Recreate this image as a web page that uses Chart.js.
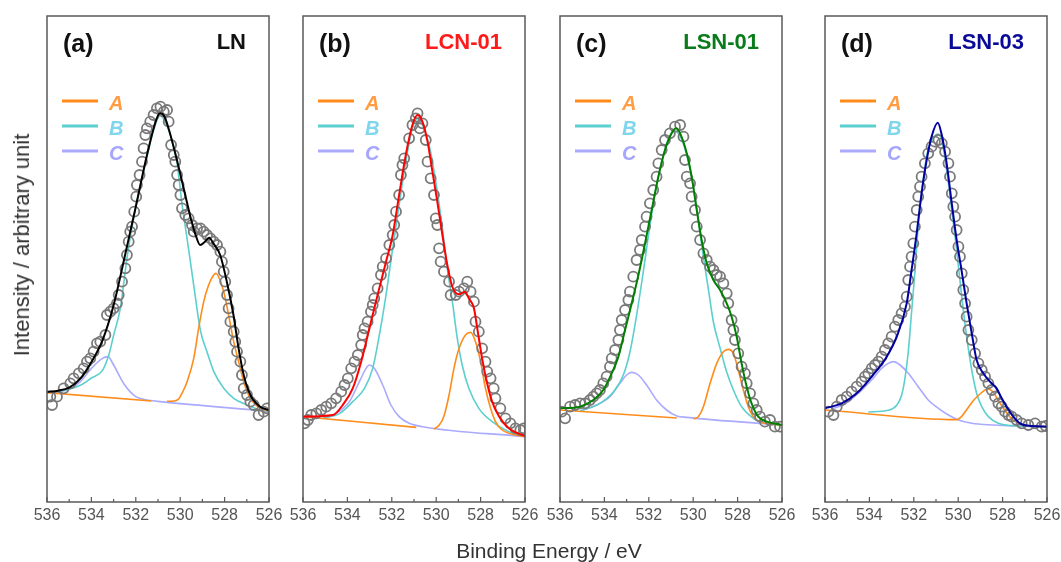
<!DOCTYPE html>
<html lang="en">
<head>
  <meta charset="UTF-8">
  <title>O 1s XPS fits</title>
  <script src="https://cdn.jsdelivr.net/npm/chart.js"></script>
  <style>
    body {
      margin: 0;
      background: #fff;
      font-family: "Liberation Sans", Arial, sans-serif;
    }
    #wrap {
      position: relative;
      width: 1061px;
      height: 562px;
      overflow: hidden;
    }
    canvas {
      position: absolute;
      top: 0;
    }
    .ytitle {
      position: absolute;
      left: 22px;
      top: 245px;
      transform: translate(-50%, -50%) rotate(-90deg);
      font-size: 22px;
      color: #333;
      white-space: nowrap;
    }
    .xtitle {
      position: absolute;
      left: 549px;
      top: 551px;
      transform: translate(-50%, -50%);
      font-size: 21px;
      color: #333;
      white-space: nowrap;
    }
  </style>
</head>
<body>
  <div id="wrap">
    <canvas id="p0" width="282" height="562" style="left:17px"></canvas>
    <canvas id="p1" width="282" height="562" style="left:273px"></canvas>
    <canvas id="p2" width="282" height="562" style="left:530px"></canvas>
    <canvas id="p3" width="282" height="562" style="left:795px"></canvas>
    <div class="ytitle">Intensity / arbitrary unit</div>
    <div class="xtitle">Binding Energy / eV</div>
  </div>

  <script>
    // panel labels
    const panelTags = ['(a)', '(b)', '(c)', '(d)'];
    const sampleNames = ['LN', 'LCN-01', 'LSN-01', 'LSN-03'];
    const componentNames = ['A', 'B', 'C'];
    const xTicks = [536, 534, 532, 530, 528, 526];

    // [binding energy (eV), intensity (arb.)]
    const lnPoints = [[535.85,316],[535.77,291],[535.55,316],[535.25,341],[534.95,356],[534.8,371],[534.57,386],[534.35,401],[534.2,421],[534.05,431],[533.9,451],[533.75,476],[533.6,481],[533.37,501],[533.3,561],[533.15,571],[533.0,581],[532.85,596],[532.77,621],[532.62,661],[532.47,701],[532.4,741],[532.32,781],[532.25,811],[532.17,826],[532.07,871],[531.98,916],[531.95,951],[531.83,981],[531.72,1021],[531.65,1061],[531.57,1101],[531.5,1121],[531.35,1141],[531.2,1161],[531.05,1181],[530.89,1186],[530.74,1171],[530.59,1176],[530.52,1141],[530.41,1071],[530.29,1041],[530.22,1021],[530.14,981],[530.07,951],[529.99,921],[529.92,881],[529.77,861],[529.62,851],[529.47,831],[529.39,811],[529.24,821],[529.09,821],[528.94,811],[528.79,801],[528.64,791],[528.49,781],[528.34,771],[528.19,751],[528.12,721],[528.04,691],[527.97,661],[527.89,621],[527.82,581],[527.74,541],[527.59,511],[527.52,481],[527.44,451],[527.29,421],[527.22,381],[527.14,341],[526.99,321],[526.84,301],[526.69,291],[526.47,261],[526.24,271],[526.09,281]];
    const lnFit = [[536,331],[535.5,334],[535,343],[534.5,370],[534,420],[533.5,485],[533,590],[532.5,736],[532,886],[531.5,1040],[531.2,1120],[531,1160],[530.9,1166],[530.7,1155],[530.5,1115],[530.2,1040],[530,985],[529.7,900],[529.5,845],[529.3,800],[529.1,771],[528.9,780],[528.7,793],[528.5,775],[528.2,741],[527.9,661],[527.6,561],[527.37,461],[527.14,381],[526.84,321],[526.4,286],[526,276]];
    const lnA = [[536,328],[531.3,303],[531.0,null],[530.6,302],[530.29,303],[530.07,309],[529.92,326],[529.69,361],[529.39,431],[529.17,521],[528.94,601],[528.72,651],[528.49,681],[528.4,686],[528.04,631],[527.82,561],[527.59,481],[527.37,421],[527.14,361],[526.84,311],[526.39,281],[526,273]];
    const lnB = [[535.5,333],[535,338],[534.5,350],[534,372],[533.5,395],[533.2,445],[533,500],[532.7,580],[532.4,730],[532.1,850],[531.8,950],[531.5,1035],[531.2,1115],[530.9,1160],[530.6,1130],[530.44,1101],[530.14,1015],[529.92,895],[529.69,790],[529.39,650],[529.09,515],[528.79,450],[528.49,392],[528.04,341],[527.59,311],[526.99,291],[526.39,276],[526,273]];
    const lnC = [[536,328],[535,338],[534.5,361],[534,401],[533.5,431],[533.25,436],[533,411],[532.5,351],[532,316],[531.5,306],[531,302],[526,272]];

    const lcnPoints = [[535.93,236],[535.78,246],[535.63,261],[535.4,266],[535.18,276],[534.95,286],[534.73,296],[534.51,311],[534.28,331],[534.13,351],[533.98,371],[533.83,401],[533.68,421],[533.53,441],[533.38,471],[533.31,501],[533.23,521],[533.09,541],[532.94,571],[532.86,591],[532.79,611],[532.64,641],[532.49,681],[532.41,706],[532.26,731],[532.11,771],[531.96,801],[531.89,831],[531.81,871],[531.67,921],[531.59,981],[531.52,1011],[531.44,1031],[531.22,1091],[531.07,1131],[530.92,1151],[530.84,1166],[530.74,1121],[530.62,1136],[530.47,1086],[530.39,1021],[530.25,971],[530.1,921],[530.02,851],[529.95,831],[529.87,761],[529.8,721],[529.65,691],[529.42,661],[529.35,621],[529.12,621],[528.97,631],[528.75,641],[528.6,661],[528.45,631],[528.3,601],[528.23,541],[528.08,511],[527.93,461],[527.78,421],[527.7,391],[527.55,371],[527.41,341],[527.33,311],[527.11,281],[526.88,251],[526.66,236],[526.43,221],[526.21,216],[526.06,221]];
    const lcnFit = [[536,256],[534.65,261],[534.21,291],[533.76,341],[533.38,421],[533.01,521],[532.64,621],[532.26,721],[531.96,801],[531.67,921],[531.37,1041],[531.07,1131],[530.84,1161],[530.62,1141],[530.39,1081],[530.17,991],[529.95,901],[529.72,801],[529.5,711],[529.27,645],[528.97,623],[528.71,631],[528.53,611],[528.3,581],[528.15,521],[527.93,430],[527.7,355],[527.48,301],[527.18,258],[526.73,221],[526,198]];
    const lcnA = [[536,256],[530.9,224],[530.5,null],[530.1,219],[529.87,230],[529.65,258],[529.42,321],[529.2,401],[528.97,461],[528.68,501],[528.45,509],[528.23,481],[528.0,421],[527.78,341],[527.55,281],[527.33,241],[527.03,216],[526.43,201],[526,196]];
    const lcnB = [[535.1,252],[534.36,265],[533.76,301],[533.23,341],[532.86,401],[532.56,501],[532.26,621],[531.96,761],[531.67,891],[531.37,1021],[531.07,1121],[530.84,1151],[530.62,1131],[530.32,1071],[530.02,961],[529.72,821],[529.5,701],[529.27,601],[529.05,491],[528.83,411],[528.53,341],[528.08,281],[527.48,241],[526.73,211],[526,196]];
    const lcnC = [[535.1,252],[534.5,266],[533.91,301],[533.46,361],[533.16,401],[533.01,411],[532.79,401],[532.41,351],[532.04,291],[531.67,256],[531.22,236],[530.62,226],[526,196]];

    const lsn1Points = [[535.92,271],[535.77,251],[535.55,286],[535.32,291],[535.1,296],[534.87,296],[534.65,306],[534.5,316],[534.35,326],[534.2,336],[534.05,356],[533.9,376],[533.75,406],[533.67,431],[533.52,456],[533.37,486],[533.3,516],[533.22,546],[533.07,576],[532.92,606],[532.85,631],[532.7,676],[532.55,726],[532.4,756],[532.32,786],[532.17,826],[532.1,856],[531.95,896],[531.8,936],[531.65,976],[531.57,1016],[531.42,1056],[531.27,1086],[531.05,1106],[530.82,1126],[530.59,1131],[530.44,1096],[530.37,1026],[530.29,976],[530.14,956],[530.07,916],[529.92,876],[529.84,826],[529.69,786],[529.54,746],[529.39,726],[529.24,706],[529.09,696],[528.94,681],[528.79,676],[528.64,656],[528.49,626],[528.42,596],[528.27,546],[528.19,516],[528.12,486],[527.97,446],[527.82,406],[527.67,386],[527.59,356],[527.44,326],[527.29,296],[527.14,276],[526.99,256],[526.77,241],[526.54,246],[526.32,226],[526.09,226]];
    const lsn1Fit = [[536,281],[535.1,286],[534.5,306],[534.05,336],[533.67,386],[533.37,436],[533.07,516],[532.77,596],[532.47,680],[532.17,776],[531.87,876],[531.57,976],[531.27,1056],[530.97,1106],[530.77,1121],[530.59,1106],[530.29,1046],[530.07,976],[529.84,876],[529.62,786],[529.39,716],[529.09,666],[528.79,636],[528.49,596],[528.27,556],[528.04,496],[527.82,416],[527.59,346],[527.37,296],[527.07,256],[526.69,241],[526,231]];
    const lsn1A = [[536,276],[530.74,252],[530.3,null],[529.99,249],[529.77,256],[529.54,286],[529.24,356],[528.94,416],[528.64,451],[528.42,458],[528.19,446],[527.97,396],[527.74,336],[527.52,286],[527.29,256],[526.99,241],[526.54,234],[526,231]];
    const lsn1B = [[535.1,273],[534.2,296],[533.6,330],[533.15,380],[532.85,450],[532.55,560],[532.25,690],[531.95,830],[531.65,950],[531.35,1040],[531.05,1100],[530.82,1112],[530.59,1098],[530.29,1040],[529.99,946],[529.77,846],[529.54,735],[529.32,640],[529.09,540],[528.79,462],[528.49,390],[528.19,336],[527.82,286],[527.29,251],[526.69,236],[526,231]];
    const lsn1C = [[535.1,273],[534.35,291],[533.75,316],[533.3,356],[533.0,381],[532.77,389],[532.47,381],[532.1,351],[531.65,306],[531.2,276],[530.74,258],[530.29,254],[526,231]];

    const lsn3Points = [[535.85,271],[535.62,261],[535.47,286],[535.25,306],[535.02,316],[534.8,331],[534.57,346],[534.35,361],[534.2,376],[534.05,386],[533.9,401],[533.75,411],[533.6,421],[533.45,436],[533.3,456],[533.15,476],[533.0,496],[532.85,526],[532.7,546],[532.55,566],[532.4,586],[532.32,616],[532.25,666],[532.17,706],[532.1,736],[532.02,776],[531.95,826],[531.87,876],[531.8,916],[531.72,946],[531.65,976],[531.5,1016],[531.35,1046],[531.2,1066],[531.05,1081],[530.89,1086],[530.74,1076],[530.59,1051],[530.44,1016],[530.37,976],[530.29,926],[530.22,886],[530.14,856],[530.07,816],[529.99,766],[529.92,736],[529.84,686],[529.77,636],[529.69,596],[529.62,556],[529.54,516],[529.39,486],[529.24,446],[529.09,416],[528.94,396],[528.79,376],[528.64,356],[528.49,336],[528.34,316],[528.19,296],[528.04,286],[527.89,271],[527.74,261],[527.59,256],[527.37,246],[527.14,236],[526.84,231],[526.54,236],[526.24,226],[526.06,228]];
    const lsn3Fit = [[536,281],[535.25,296],[534.57,326],[533.9,376],[533.22,436],[532.77,496],[532.32,596],[532.1,696],[531.87,806],[531.65,926],[531.42,1026],[531.2,1096],[530.92,1138],[530.74,1101],[530.52,1016],[530.29,896],[530.07,786],[529.84,691],[529.62,596],[529.39,506],[529.17,426],[528.87,386],[528.57,361],[528.27,341],[528.04,311],[527.82,286],[527.52,256],[527.22,236],[526.69,228],[526,226]];
    const lsn3A = [[536,276],[530.07,247],[529.84,257],[529.62,277],[529.32,304],[529.02,324],[528.79,336],[528.64,339],[528.42,329],[528.19,304],[527.89,274],[527.59,250],[527.29,236],[526.99,229],[526,226]];
    const lsn3B = [[534.05,270],[533.15,275],[532.77,290],[532.55,320],[532.4,370],[532.25,450],[532.1,570],[531.95,690],[531.8,830],[531.57,970],[531.35,1060],[531.12,1092],[530.92,1104],[530.74,1084],[530.52,996],[530.29,876],[530.07,756],[529.84,616],[529.62,496],[529.39,396],[529.17,326],[528.94,286],[528.64,256],[528.19,236],[527.59,229],[526,226]];
    const lsn3C = [[535.7,279],[535.1,294],[534.5,326],[533.9,366],[533.45,401],[533.15,416],[532.92,421],[532.62,411],[532.25,386],[531.8,346],[531.35,306],[530.89,281],[530.44,261],[529.99,246],[529.39,236],[528.49,231],[526,226]];

    const pointSets = [lnPoints, lcnPoints, lsn1Points, lsn3Points];
    const fitSets = [lnFit, lcnFit, lsn1Fit, lsn3Fit];
    const compSets = [[lnA, lnB, lnC], [lcnA, lcnB, lcnC], [lsn1A, lsn1B, lsn1C], [lsn3A, lsn3B, lsn3C]];

    const fitColors = ['#000000', '#ff0000', '#008000', '#0000a0'];
    const nameColors = ['#111111', '#ff1a1a', '#0a7a1a', '#0a0a99'];
    const compColors = ['#ff8c1a', '#5ccfcf', '#aaaaff'];
    const compTextColors = ['#ff9d45', '#80d6ea', '#a6a6ff'];

    Chart.defaults.font.family = '"Liberation Sans", Arial, sans-serif';
    Chart.defaults.animation = false;

    // frame, inward ticks, panel tag, sample name, legend
    const panelDeco = {
      id: 'panelDeco',
      afterDatasetsDraw(chart, args, opts) {
        const { ctx, chartArea: a } = chart;
        const x = chart.scales.x;
        ctx.save();
        ctx.strokeStyle = '#5a5a5a';
        ctx.lineWidth = 1.2;
        for (let v = 526; v <= 536; v++) {
          const px = x.getPixelForValue(v);
          const len = v % 2 === 0 ? 5 : 3;
          ctx.beginPath();
          ctx.moveTo(px, a.bottom);
          ctx.lineTo(px, a.bottom - len);
          ctx.stroke();
        }
        ctx.lineWidth = 1.5;
        ctx.strokeRect(a.left, a.top, a.right - a.left, a.bottom - a.top);

        ctx.textBaseline = 'alphabetic';
        ctx.font = 'bold 25px "Liberation Sans", Arial, sans-serif';
        ctx.fillStyle = '#111';
        ctx.textAlign = 'left';
        ctx.fillText(opts.tag, a.left + 16, a.top + 36);
        ctx.font = 'bold 22px "Liberation Sans", Arial, sans-serif';
        ctx.fillStyle = opts.nameColor;
        ctx.textAlign = 'right';
        ctx.fillText(opts.name, a.right - 23, a.top + 33);

        // legend for the three components
        ctx.font = 'italic bold 20px "Liberation Sans", Arial, sans-serif';
        ctx.textAlign = 'left';
        ctx.textBaseline = 'middle';
        ctx.lineWidth = 3;
        const comps = chart.data.datasets.filter(d => d.isComponent);
        comps.forEach((d, i) => {
          const y = a.top + 85 + i * 25;
          ctx.strokeStyle = d.borderColor;
          ctx.beginPath();
          ctx.moveTo(a.left + 15, y);
          ctx.lineTo(a.left + 51, y);
          ctx.stroke();
          ctx.fillStyle = d.textColor;
          ctx.fillText(d.label, a.left + 62, y + 3);
        });
        ctx.restore();
      }
    };

    for (let p = 0; p < 4; p++) {
      const datasets = [
        {
          label: 'fit',
          data: fitSets[p],
          borderColor: fitColors[p],
          borderWidth: 2,
          pointRadius: 0,
          cubicInterpolationMode: 'monotone',
          order: 0
        },
        {
          label: 'data',
          data: pointSets[p],
          showLine: false,
          pointStyle: 'circle',
          pointRadius: 5,
          pointBorderWidth: 1.8,
          pointBorderColor: '#7a7a7a',
          pointBackgroundColor: 'rgba(0,0,0,0)',
          order: 1
        }
      ];
      compSets[p].forEach((set, i) => {
        datasets.push({
          label: componentNames[i],
          data: set,
          isComponent: true,
          textColor: compTextColors[i],
          borderColor: compColors[i],
          borderWidth: 1.6,
          pointRadius: 0,
          spanGaps: false,
          cubicInterpolationMode: 'monotone',
          order: 2 + i
        });
      });

      new Chart(document.getElementById('p' + p), {
        type: 'line',
        data: { datasets },
        plugins: [panelDeco],
        options: {
          responsive: false,
          layout: { padding: { left: 30, right: 30, top: 16, bottom: 0 } },
          plugins: {
            legend: { display: false },
            tooltip: { enabled: false },
            panelDeco: {
              tag: panelTags[p],
              name: sampleNames[p],
              nameColor: nameColors[p]
            }
          },
          scales: {
            x: {
              type: 'linear',
              min: 526,
              max: 536,
              reverse: true,
              afterFit: s => { s.height = 60; },
              afterBuildTicks: s => { s.ticks = xTicks.map(v => ({ value: v })); },
              grid: { display: false, drawTicks: false },
              border: { display: false },
              ticks: {
                padding: 4,
                color: '#555',
                font: { size: 16 },
                maxRotation: 0,
                callback: v => String(v)
              }
            },
            y: {
              display: false,
              min: 0,
              max: 1458
            }
          }
        }
      });
    }
  </script>
</body>
</html>
